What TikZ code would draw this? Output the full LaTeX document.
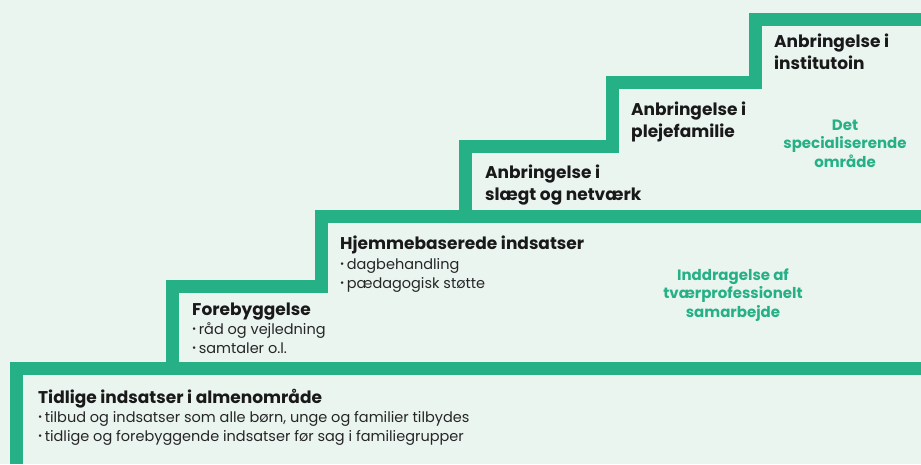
\documentclass[tikz,border=0pt]{standalone}
\usepackage{fontspec}
\setmainfont{Poppins}
\definecolor{stepgreen}{HTML}{25B086}
\definecolor{mint}{HTML}{EBF5F0}
\newcommand{\itm}{\raisebox{0.15ex}{\scalebox{0.7}{\textbullet}}\,}
\tikzset{
  stair/.style={draw=stepgreen, line width=13pt, line join=miter},
  head/.style={font=\fontsize{17}{22}\selectfont\bfseries, text=black!90, inner sep=0pt, anchor=base west, align=left},
  items/.style={font=\fontsize{14.5}{19}\selectfont, text=black!85, inner sep=0pt, anchor=base west, align=left},
  area/.style={font=\fontsize{15}{18.5}\selectfont\bfseries, text=stepgreen, inner sep=0pt, anchor=base, align=center}
}

\begin{document}
\begin{tikzpicture}[x=1pt, y=-1pt]
    \useasboundingbox[fill=mint] (0,0) rectangle (921,464);

    % the staircase
    \draw[stair] (16.5,464) -- (16.5,368.5) -- (172.5,368.5) -- (172.5,286) -- (321.5,286)
        -- (321.5,216.5) -- (465.5,216.5) -- (465.5,146.5) -- (612.5,146.5)
        -- (612.5,82.5) -- (755.5,82.5) -- (755.5,19) -- (921,19);
    \draw[stair] (172.5,368.5) -- (921,368.5);
    \draw[stair] (465.5,216.5) -- (921,216.5);

    % steps (multi-line nodes sit on their last baseline)
    \node[head] (almen) at (38,403) {Tidlige indsatser i almenområde};
    \node[items] (almenitems) at (38,441) {\itm tilbud og indsatser som alle børn, unge og familier tilbydes\\\itm tidlige og forebyggende indsatser før sag i familiegrupper};

    \node[head] (forebyg) at (192,315) {Forebyggelse};
    \node[items] (forebygitems) at (192,353) {\itm råd og vejledning\\\itm samtaler o.l.};

    \node[head] (hjemme) at (340,249) {Hjemmebaserede indsatser};
    \node[items] (hjemmeitems) at (340,288) {\itm dagbehandling\\\itm pædagogisk støtte};

    \node[head] (slaegt) at (485,200) {Anbringelse i\\slægt og netværk};
    \node[head] (pleje) at (631,137) {Anbringelse i\\plejefamilie};
    \node[head] (inst) at (774,69) {Anbringelse i\\institutoin};

    % areas
    \node[area] (tvaer) at (733,317) {Inddragelse af\\tværprofessionelt\\samarbejde};
    \node[area] (special) at (845,167) {Det\\specialiserende\\område};

\end{tikzpicture}
\end{document}
